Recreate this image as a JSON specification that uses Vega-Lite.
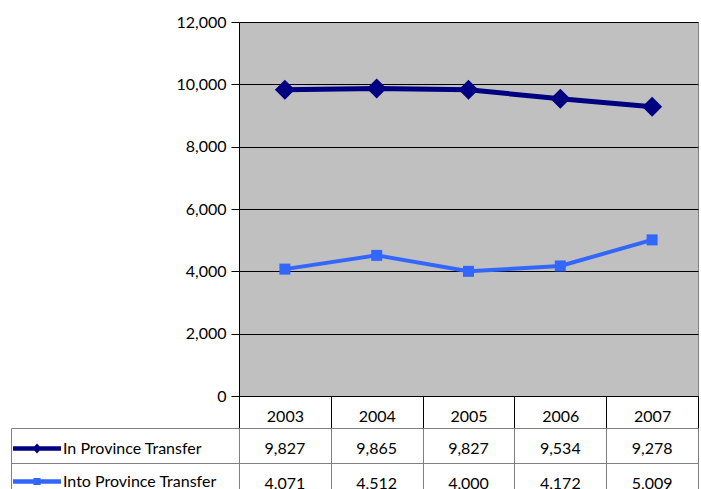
{
  "$schema": "https://vega.github.io/schema/vega-lite/v6.json",
  "padding": {"left": 10, "top": 13, "right": 4, "bottom": 0},
  "background": "white",
  "config": {"font": "Lato", "view": {"stroke": null}},
  "data": {
    "values": [
      {"Series": "In Province Transfer", "Year": "2003", "Value": 9827},
      {"Series": "In Province Transfer", "Year": "2004", "Value": 9865},
      {"Series": "In Province Transfer", "Year": "2005", "Value": 9827},
      {"Series": "In Province Transfer", "Year": "2006", "Value": 9534},
      {"Series": "In Province Transfer", "Year": "2007", "Value": 9278},
      {"Series": "Into Province Transfer", "Year": "2003", "Value": 4071},
      {"Series": "Into Province Transfer", "Year": "2004", "Value": 4512},
      {"Series": "Into Province Transfer", "Year": "2005", "Value": 4000},
      {"Series": "Into Province Transfer", "Year": "2006", "Value": 4172},
      {"Series": "Into Province Transfer", "Year": "2007", "Value": 5009}
    ]
  },
  "bounds": "flush",
  "spacing": 32,
  "vconcat": [
    {
      "width": 459,
      "height": 374,
      "view": {"fill": "#C0C0C0", "stroke": "#808080"},
      "encoding": {
        "x": {
          "field": "Year",
          "type": "ordinal",
          "scale": {"paddingInner": 0, "paddingOuter": 0},
          "axis": {"labels": false, "ticks": false, "title": null, "grid": false, "domainColor": "black"}
        },
        "y": {
          "field": "Value",
          "type": "quantitative",
          "scale": {"domain": [0, 12000], "nice": false},
          "axis": {
            "title": null,
            "values": [0, 2000, 4000, 6000, 8000, 10000, 12000],
            "format": ",.0f",
            "grid": true,
            "gridColor": "black",
            "gridOpacity": 1,
            "domainColor": "black",
            "tickColor": "black",
            "tickSize": 8,
            "labelPadding": 5,
            "labelFontSize": 16,
            "labelColor": "black"
          }
        },
        "color": {
          "field": "Series",
          "type": "nominal",
          "scale": {
            "domain": ["In Province Transfer", "Into Province Transfer"],
            "range": ["#000080", "#3366FF"]
          },
          "legend": {
            "orient": "none",
            "legendX": -226,
            "legendY": 410,
            "title": null,
            "padding": 0,
            "rowPadding": 0,
            "clipHeight": 33,
            "symbolSize": 2304,
            "symbolStrokeWidth": 0,
            "symbolOpacity": 1,
            "labelFontSize": 16,
            "labelColor": "black",
            "labelOffset": 2,
            "labelLimit": 0,
            "encode": {
              "symbols": {
                "update": {
                  "shape": {"signal": "datum.value == 'In Province Transfer' ? 'M-1,-0.09H1V0.09H-1Z M0,-0.21L0.19,0L0,0.21L-0.19,0Z' : 'M-1,-0.09H1V0.09H-1Z M-0.15,-0.15H0.15V0.15H-0.15Z'"},
                  "fill": {"signal": "datum.value == 'In Province Transfer' ? '#000080' : '#3366FF'"},
                  "strokeWidth": {"value": 0}
                }
              }
            }
          }
        }
      },
      "layer": [
        {
          "mark": {"type": "line"},
          "encoding": {
            "strokeWidth": {
              "condition": {"test": "datum.Series == 'In Province Transfer'", "value": 5},
              "value": 4
            }
          }
        },
        {
          "mark": {"type": "point", "filled": true, "opacity": 1},
          "encoding": {
            "shape": {
              "condition": {"test": "datum.Series == 'In Province Transfer'", "value": "diamond"},
              "value": "square"
            },
            "size": {
              "condition": {"test": "datum.Series == 'In Province Transfer'", "value": 400},
              "value": 121
            }
          }
        }
      ]
    },
    {
      "width": 459,
      "height": 70,
      "view": {"stroke": "#808080"},
      "mark": {"type": "text", "fontSize": 16, "color": "black", "baseline": "middle", "dy": 3},
      "encoding": {
        "x": {
          "field": "Year",
          "type": "ordinal",
          "scale": {"paddingInner": 0, "paddingOuter": 0},
          "axis": {
            "orient": "top",
            "title": null,
            "labelAngle": 0,
            "tickBand": "extent",
            "tickSize": 32,
            "tickColor": "black",
            "labelPadding": -20,
            "labelBaseline": "middle",
            "labelFontSize": 16,
            "labelColor": "black",
            "domainColor": "#808080",
            "grid": true,
            "gridColor": "#808080",
            "gridOpacity": 1
          }
        },
        "y": {
          "field": "Series",
          "type": "nominal",
          "scale": {
            "domain": ["In Province Transfer", "Into Province Transfer"],
            "paddingInner": 0,
            "paddingOuter": 0
          },
          "axis": {
            "title": null,
            "labels": false,
            "offset": 228,
            "tickBand": "extent",
            "tickSize": -228,
            "tickColor": "#808080",
            "domainColor": "#808080",
            "grid": true,
            "gridColor": "#808080",
            "gridOpacity": 1
          }
        },
        "text": {"field": "Value", "type": "quantitative", "format": ","}
      }
    }
  ]
}
